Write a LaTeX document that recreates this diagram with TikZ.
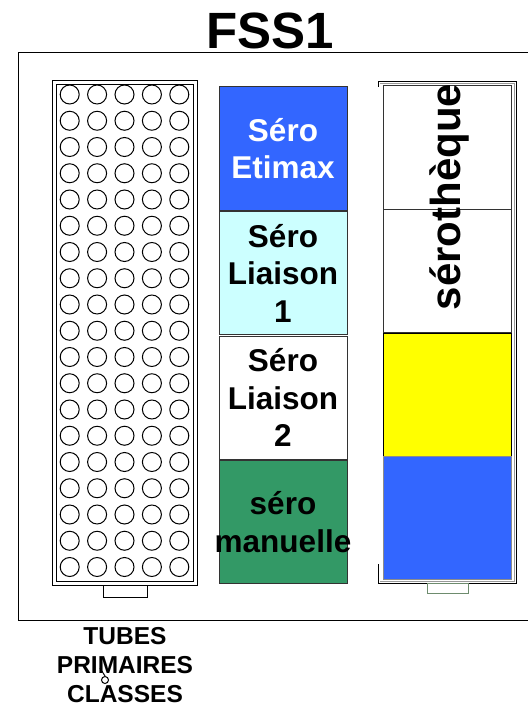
\documentclass[tikz,border=0pt]{standalone}
\usepackage{fontspec}
\setmainfont{Liberation Sans}
\usepackage{tikz}

\definecolor{seroBlue}{HTML}{3366FF}
\definecolor{seroCyan}{HTML}{CCFFFF}
\definecolor{seroGreen}{HTML}{339966}
\definecolor{seroYellow}{HTML}{FFFF00}
\definecolor{tabGreen}{HTML}{6E8C6E}

\begin{document}
\begin{tikzpicture}[x=1pt, y=-1pt, line width=1pt]
        \tikzstyle{sero} = [draw=black!80, rectangle, align=center, 
            inner xsep=-8pt, inner ysep=0pt,
            minimum height=123pt, minimum width=128pt, node distance=124.5pt,
            font=\bfseries\fontsize{31.5}{37.5}\selectfont]
        \tikzstyle{theque} = [draw=black!80, rectangle,
            minimum height=123pt, minimum width=128pt, node distance=123.5pt]
        \tikzstyle{tube} = [draw, circle, minimum size=19pt, inner sep=0pt];
        \tikzstyle{tab} = [draw, rectangle, inner sep=0pt];
        \useasboundingbox (0,0) rectangle (527,706);

        % title and frame
        \node[font=\bfseries\fontsize{51}{60}\selectfont, anchor=base] 
            (title) at (270,49) {FSS1};
        \draw (532,53) -- (18,53) -- (18,620) -- (532,620);

        % tube rack
        \draw (52,81) rectangle (197,585);
        \draw (56,85) rectangle (193,581);
        \foreach \col in {0,...,4}
            \foreach \row in {0,...,18}
                \node[tube] (tube-\col-\row) at (69.7+27.4*\col, 94.5+26.25*\row) {};
        \node[tab, minimum width=44pt, minimum height=12pt] (rackTab) at (125,591) {};

        % middle column
        \node[sero, fill=seroBlue, text=white] (nodeEtimax) at (283,148.5) {Séro\\Etimax};
        \node[sero, fill=seroCyan, below of=nodeEtimax] (nodeLiaisonA) {Séro\\Liaison\\1};
        \node[sero, fill=white, below of=nodeLiaisonA] (nodeLiaisonB) {Séro\\Liaison\\2};
        \node[sero, fill=seroGreen, below of=nodeLiaisonB] (nodeManuelle) {séro\\manuelle};

        % serotheque tray
        \draw (378,87) -- (378,81.5) -- (516.5,81.5) -- (516.5,583) -- (378,583) -- (378,564);
        \draw[black!40] (380,84) -- (514,84) -- (514,581) -- (380,581);
        \node[theque, fill=white] (nodeThequeA) at (447,147.5) {};
        \node[theque, fill=white, below of=nodeThequeA] (nodeThequeB) {};
        \node[theque, fill=seroYellow, draw=black, below of=nodeThequeB] (nodeYellow) {};
        \node[theque, fill=seroBlue, draw=black!45, below of=nodeYellow] (nodeBlue) {};
        \node[rotate=90, anchor=base, font=\bfseries\fontsize{42}{50}\selectfont] 
            (nodeTheque) at (460,197) {sérothèque};
        \node[tab, draw=tabGreen, minimum width=41pt, minimum height=10pt] (trayTab) at (447.5,588) {};

        % label under the rack
        \node[align=center, anchor=north, inner sep=0pt, 
            font=\bfseries\fontsize{24.5}{29}\selectfont] 
            (tubesLabel) at (125,626.5) {TUBES\\PRIMAIRES\\CLASSES};
        \node[draw, circle, inner sep=0pt, minimum size=7pt] (handle) at (105,680) {};
        \draw (handle.north) -- (100,668);
    \end{tikzpicture}
\end{document}
